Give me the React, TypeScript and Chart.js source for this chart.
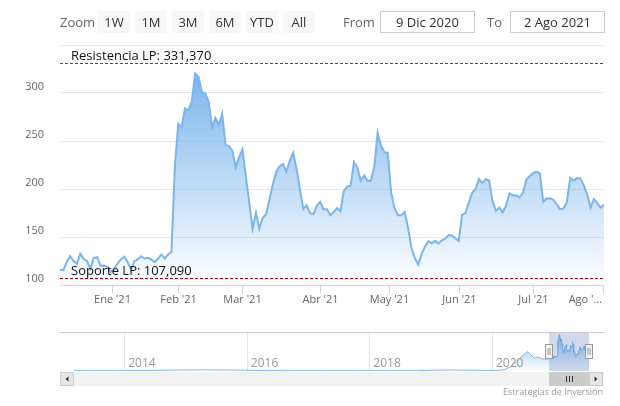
import React, { useEffect, useRef } from 'react';
import { Chart, registerables } from 'chart.js';

Chart.register(...registerables);

const FONT = "'Open Sans', 'Noto Sans', sans-serif";

// ---- data ----
const startDate = '2020-12-09';
const endDate = '2021-08-02';
const marketHolidays = ['2020-12-25', '2021-01-01', '2021-01-18', '2021-02-15', '2021-04-02', '2021-05-31', '2021-07-05'];

const prices = [
  116, 115.5, 124, 130, 125, 122, 132.5, 127, 125, 117,
  128.3, 129, 120, 120.3, 119, 113.5, 117, 122, 126.6, 129.4,
  124, 116, 124.8, 126.6, 130, 127.6, 128.3, 126.6, 123.8, 127.3,
  131.8, 127.6, 131.8, 134.6, 224, 268, 264.6, 284, 282, 291,
  320.5, 317, 301, 299.5, 290.8, 264.6, 274, 267, 278.5, 246,
  244.7, 240, 222.6, 233, 241.5, 213, 186, 158.7, 175.5, 158.7,
  170, 173.7, 189, 205, 218, 223.7, 226, 218, 229.6, 237.7,
  221, 200, 179, 183, 174.8, 173.7, 182.5, 186.7, 179, 179,
  172.7, 176, 180, 177, 198, 202.4, 203.4, 228, 222.6, 208.7,
  214, 208.7, 208.7, 222.6, 258.6, 245, 238.4, 237.7, 196.4, 180,
  172.7, 172.7, 176, 159.7, 138.8, 128.3, 121.3, 131.8, 140, 145.5,
  143.5, 146, 143.3, 146.5, 148.2, 152, 151.7, 148.6, 145.8, 173,
  175, 186, 196.4, 200, 210.4, 206.2, 210.4, 208.7, 187.7, 177.2,
  180.7, 175.5, 182.5, 195.4, 193.6, 193.6, 191.2, 195.7, 209.7, 213.2,
  216.4, 218.1, 216.4, 186.7, 190.1, 190.1, 188.7, 184.2, 179, 179.7,
  186, 211.5, 208.7, 211.1, 211.1, 204.1, 194.7, 180.7, 189.4, 185.3,
  180.7, 183.5,
];

const xTickDates = ['2021-01-01', '2021-02-01', '2021-03-01', '2021-04-01', '2021-05-01', '2021-06-01', '2021-07-01', '2021-08-01'];
const xTickLabels = ["Ene '21", "Feb '21", "Mar '21", "Abr '21", "May '21", "Jun '21", "Jul '21", "Ago '…"];

const yMin = 100;
const yMax = 350;
const yStep = 50;

const resistanceValue = 331.37;
const supportValue = 107.09;
const resistanceLabel = 'Resistencia LP: 331,370';
const supportLabel = 'Soporte LP: 107,090';

const zoomButtons = ['1W', '1M', '3M', '6M', 'YTD', 'All'];
const fromText = '9 Dic 2020';
const toText = '2 Ago 2021';

// navigator (overview) history before the selected range
const navYears = [2013.18, 2013.5, 2013.9, 2014.3, 2014.6, 2014.9, 2015.3, 2015.7, 2016.0, 2016.3, 2016.8, 2017.3, 2017.8, 2018.3, 2018.8, 2019.1, 2019.4, 2019.7, 2019.95, 2020.1, 2020.2, 2020.31, 2020.4, 2020.48, 2020.55, 2020.585, 2020.64, 2020.69, 2020.75, 2020.83, 2020.91];
const navValues = [3, 3, 3, 4, 7, 9, 10, 9, 7, 4, 3, 3, 3, 3, 3, 8, 9, 7, 5, 6, 12, 38, 83, 127, 157, 171, 142, 113, 124, 104, 106];
const navYearTicks = [2014, 2016, 2018, 2020];
const navMin = 2013.18;
const navMax = 2021.584;
const navSelStart = 2020.937;
const navSelEnd = 2021.584;
const navYMax = 345;
const creditsText = 'Estrategias de Inversión';

// ---- helpers ----
function dayMs(s: string) {
  return Date.parse(s + 'T00:00:00Z');
}
function tradingDays(): string[] {
  const out: string[] = [];
  const d = new Date(dayMs(startDate));
  const end = dayMs(endDate);
  while (d.getTime() <= end) {
    const dow = d.getUTCDay();
    const s = d.toISOString().slice(0, 10);
    if (dow !== 0 && dow !== 6 && !marketHolidays.includes(s)) out.push(s);
    d.setUTCDate(d.getUTCDate() + 1);
  }
  return out;
}
function fracIndex(days: string[], t: string) {
  const tt = dayMs(t);
  for (let i = 0; i < days.length; i++) {
    const di = dayMs(days[i]);
    if (di === tt) return i;
    if (di > tt) {
      if (i === 0) return 0;
      const dp = dayMs(days[i - 1]);
      return i - 1 + (tt - dp) / (di - dp);
    }
  }
  return days.length - 1;
}

export default function App() {
  const mainRef = useRef<HTMLCanvasElement>(null);
  const navRef = useRef<HTMLCanvasElement>(null);

  useEffect(() => {
    const days = tradingDays();
    const labels = prices.map((_, i) => days[i] || String(i));
    const tickPos = xTickDates.map((d) => fracIndex(days, d));

    const mainDecor = {
      id: 'mainDecor',
      afterDatasetsDraw(chart: any) {
        const { ctx, chartArea: a, scales } = chart;
        const x = scales.x;
        const y = scales.y;
        ctx.save();
        const drawPL = (val: number, color: string, label: string) => {
          const py = Math.round(y.getPixelForValue(val)) + 0.5;
          ctx.strokeStyle = color;
          ctx.lineWidth = 1;
          ctx.setLineDash([3, 2]);
          ctx.beginPath();
          ctx.moveTo(a.left, py);
          ctx.lineTo(a.right, py);
          ctx.stroke();
          ctx.setLineDash([]);
          ctx.fillStyle = '#111';
          ctx.font = `13px ${FONT}`;
          ctx.textAlign = 'left';
          ctx.textBaseline = 'alphabetic';
          ctx.fillText(label, a.left + 11, py - 4);
        };
        drawPL(resistanceValue, '#008000', resistanceLabel);
        drawPL(supportValue, '#a00000', supportLabel);

        // x axis line
        const by = Math.round(a.bottom) + 0.5;
        ctx.strokeStyle = '#ccd6eb';
        ctx.lineWidth = 1;
        ctx.beginPath();
        ctx.moveTo(a.left, by);
        ctx.lineTo(a.right, by);
        ctx.stroke();

        ctx.font = `11px ${FONT}`;
        ctx.fillStyle = '#666';
        ctx.textBaseline = 'middle';
        ctx.textAlign = 'left';
        tickPos.forEach((p, k) => {
          const px = Math.round(x.getPixelForValue(p)) + 0.5;
          ctx.beginPath();
          ctx.moveTo(px, by);
          ctx.lineTo(px, by + 8);
          ctx.stroke();
          const txt = xTickLabels[k];
          const w = ctx.measureText(txt).width;
          let left = px - w / 2;
          if (left + w > a.right - 1) left = a.right - 2 - w;
          ctx.fillText(txt, left, a.bottom + 15);
        });
        ctx.restore();
      },
    };

    const main = new Chart(mainRef.current!, {
      type: 'line',
      data: {
        labels,
        datasets: [
          {
            data: prices,
            borderColor: '#7cb5ec',
            borderWidth: 2,
            pointRadius: 0,
            tension: 0,
            fill: 'start',
            backgroundColor: (c: any) => {
              const ch = c.chart;
              const { chartArea, scales } = ch;
              if (!chartArea) return 'rgba(124,181,236,0.5)';
              const g = ch.ctx.createLinearGradient(0, scales.y.getPixelForValue(320), 0, chartArea.bottom);
              g.addColorStop(0, 'rgba(124,181,236,1)');
              g.addColorStop(1, 'rgba(124,181,236,0)');
              return g;
            },
          },
        ],
      },
      options: {
        responsive: false,
        animation: false,
        devicePixelRatio: 1,
        layout: { padding: { top: 37, right: 8, left: 0, bottom: 0 } },
        plugins: { legend: { display: false }, tooltip: { enabled: false } },
        scales: {
          x: {
            type: 'category',
            offset: false,
            grid: { display: false },
            border: { display: false },
            ticks: { display: false },
            afterFit: (s: any) => {
              s.height = 23;
            },
          },
          y: {
            min: yMin,
            max: yMax,
            ticks: {
              stepSize: yStep,
              padding: 16,
              labelOffset: -6,
              color: '#666',
              font: { size: 11, family: FONT },
              callback: (v: any) => (v === yMax ? '' : String(v)),
            },
            grid: { color: '#e6e6e6', drawTicks: false, lineWidth: 1 },
            border: { display: false },
            afterFit: (s: any) => {
              s.width = 52;
            },
          },
        },
      },
      plugins: [mainDecor],
    } as any);

    // navigator
    const span = (navSelEnd - navSelStart) / (prices.length - 1);
    const navPoints = navYears.map((yr, i) => ({ x: yr, y: navValues[i] })).concat(
      prices.map((v, i) => ({ x: navSelStart + i * span, y: v }))
    );

    const navDecor = {
      id: 'navDecor',
      beforeDatasetsDraw(chart: any) {
        const { ctx, chartArea: a, scales } = chart;
        ctx.save();
        ctx.strokeStyle = '#e6e6e6';
        ctx.lineWidth = 1;
        navYearTicks.forEach((yr) => {
          const px = Math.round(scales.x.getPixelForValue(yr)) + 0.5;
          ctx.beginPath();
          ctx.moveTo(px, a.top);
          ctx.lineTo(px, a.bottom);
          ctx.stroke();
        });
        ctx.restore();
      },
      afterDatasetsDraw(chart: any) {
        const { ctx, chartArea: a, scales, width } = chart;
        const sx = scales.x;
        ctx.save();
        // year labels
        ctx.font = `12px ${FONT}`;
        ctx.fillStyle = '#999';
        ctx.textAlign = 'left';
        ctx.textBaseline = 'alphabetic';
        navYearTicks.forEach((yr) => {
          const px = sx.getPixelForValue(yr);
          ctx.fillText(String(yr), px + 4, a.bottom - 4);
        });
        const xs = Math.round(sx.getPixelForValue(navSelStart));
        const xe = Math.round(sx.getPixelForValue(navSelEnd));
        // mask
        ctx.fillStyle = 'rgba(102,133,194,0.3)';
        ctx.fillRect(xs, a.top, xe - xs, a.bottom - a.top);
        // outline
        const outL = a.left - 14;
        const outR = a.right + 15;
        ctx.strokeStyle = '#cccccc';
        ctx.lineWidth = 1;
        ctx.beginPath();
        ctx.moveTo(outL, a.top + 0.5);
        ctx.lineTo(outR, a.top + 0.5);
        ctx.stroke();
        // scrollbar
        const sy = a.bottom + 1;
        const sh = 14;
        ctx.fillStyle = '#f2f2f2';
        ctx.fillRect(outL, sy, outR - outL, sh);
        // thumb
        ctx.fillStyle = '#cccccc';
        ctx.fillRect(xs, sy, xe - xs, sh);
        const cx = Math.round((xs + xe) / 2);
        ctx.strokeStyle = '#333';
        [-3, 0, 3].forEach((o) => {
          ctx.beginPath();
          ctx.moveTo(cx + o + 0.5, sy + 4);
          ctx.lineTo(cx + o + 0.5, sy + sh - 4);
          ctx.stroke();
        });
        // buttons
        const drawBtn = (bx: number, dir: number) => {
          ctx.fillStyle = '#e6e6e6';
          ctx.fillRect(bx, sy, 14, sh);
          ctx.strokeStyle = '#cccccc';
          ctx.strokeRect(bx + 0.5, sy + 0.5, 13, sh - 1);
          ctx.fillStyle = '#333';
          const mx = bx + 7;
          const my = sy + sh / 2;
          ctx.beginPath();
          ctx.moveTo(mx - 1.5 * dir, my);
          ctx.lineTo(mx + 1.5 * dir, my - 2.5);
          ctx.lineTo(mx + 1.5 * dir, my + 2.5);
          ctx.closePath();
          ctx.fill();
        };
        drawBtn(outL, 1);
        drawBtn(a.right, -1);
        // handles
        const drawHandle = (hx: number) => {
          const hy = a.top + 12;
          ctx.fillStyle = '#f2f2f2';
          ctx.fillRect(hx - 3.5, hy, 7, 15);
          ctx.strokeStyle = '#999';
          ctx.strokeRect(hx - 3.5, hy + 0.5, 7, 14);
          ctx.beginPath();
          ctx.moveTo(hx - 1, hy + 4);
          ctx.lineTo(hx - 1, hy + 11);
          ctx.moveTo(hx + 1, hy + 4);
          ctx.lineTo(hx + 1, hy + 11);
          ctx.stroke();
        };
        drawHandle(xs);
        drawHandle(xe);
        // credits
        ctx.font = `9px ${FONT}`;
        ctx.fillStyle = '#999';
        ctx.textAlign = 'right';
        ctx.fillText(creditsText, width - 9, sy + sh + 9);
        ctx.restore();
      },
    };

    const nav = new Chart(navRef.current!, {
      type: 'line',
      data: {
        datasets: [
          {
            data: navPoints,
            borderColor: '#7cb5ec',
            borderWidth: 1,
            pointRadius: 0,
            tension: 0,
            fill: 'start',
            backgroundColor: (c: any) => {
              const ch = c.chart;
              const { chartArea } = ch;
              if (!chartArea) return 'rgba(124,181,236,0.3)';
              const g = ch.ctx.createLinearGradient(0, chartArea.top, 0, chartArea.bottom);
              g.addColorStop(0, 'rgba(124,181,236,0.9)');
              g.addColorStop(1, 'rgba(124,181,236,0.03)');
              return g;
            },
          },
        ],
      },
      options: {
        responsive: false,
        animation: false,
        devicePixelRatio: 1,
        layout: { padding: { left: 66, right: 23, top: 12, bottom: 29 } },
        plugins: { legend: { display: false }, tooltip: { enabled: false } },
        scales: {
          x: { type: 'linear', min: navMin, max: navMax, display: false },
          y: { min: 0, max: navYMax, display: false },
        },
      },
      plugins: [navDecor],
    } as any);

    return () => {
      main.destroy();
      nav.destroy();
    };
  }, []);

  const btnBase: React.CSSProperties = {
    position: 'absolute',
    top: 3,
    width: 32,
    height: 22,
    lineHeight: '22px',
    background: '#f7f7f7',
    borderRadius: 2,
    textAlign: 'center',
    color: '#333',
    fontSize: 13,
  };
  const inputBase: React.CSSProperties = {
    position: 'absolute',
    top: 3,
    width: 95,
    height: 22,
    boxSizing: 'border-box',
    border: '1px solid #cccccc',
    lineHeight: '20px',
    textAlign: 'center',
    color: '#333',
    fontSize: 13,
    background: '#fff',
  };
  const labelBase: React.CSSProperties = {
    position: 'absolute',
    top: 3,
    height: 22,
    lineHeight: '22px',
    color: '#666',
    fontSize: 13,
  };

  return (
    <div style={{ position: 'relative', width: 604, height: 392, fontFamily: FONT }}>
      <canvas ref={mainRef} width={604} height={300} style={{ position: 'absolute', left: 0, top: 0 }} />
      <canvas ref={navRef} width={604} height={80} style={{ position: 'absolute', left: 0, top: 312 }} />
      <div style={{ ...labelBase, left: 52 }}>Zoom</div>
      {zoomButtons.map((b, i) => (
        <div key={b} style={{ ...btnBase, left: 90 + i * 37 }}>
          {b}
        </div>
      ))}
      <div style={{ ...labelBase, left: 335 }}>From</div>
      <div style={{ ...inputBase, left: 372 }}>{fromText}</div>
      <div style={{ ...labelBase, left: 479 }}>To</div>
      <div style={{ ...inputBase, left: 502 }}>{toText}</div>
    </div>
  );
}
